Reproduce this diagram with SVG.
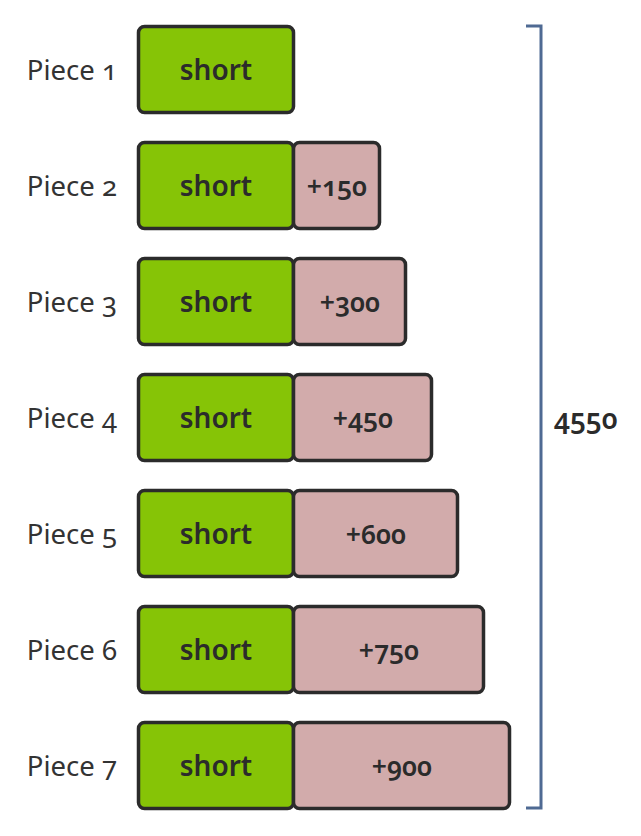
<svg xmlns="http://www.w3.org/2000/svg" width="641" height="836" viewBox="0 0 641 836">
<style>
text{font-family:"Noto Sans","Lato","Liberation Sans",sans-serif;fill:#2b2b2b;font-variant-numeric:oldstyle-nums}
.lbl{font-size:27.5px;font-weight:400;text-anchor:end;fill:#333}
.s{font-size:28px;font-weight:600;text-anchor:middle}
.p{font-size:26.5px;font-weight:600;text-anchor:middle}
.g{fill:#86c406;stroke:#2b2b2b;stroke-width:3.5}
.k{fill:#d2abab;stroke:#2b2b2b;stroke-width:3.5}
.tot{font-size:28px;font-weight:600}
</style>
<g id="piece1"><text class="lbl" x="117" y="80">Piece 1</text><rect class="g" x="138.5" y="26.5" width="155" height="86" rx="6"/><text class="s" x="216" y="80">short</text></g>
<g id="piece2"><text class="lbl" x="117" y="196">Piece 2</text><rect class="g" x="138.5" y="142.5" width="155" height="86" rx="6"/><rect class="k" x="293.5" y="142.5" width="86" height="86" rx="6"/><text class="s" x="216" y="196">short</text><text class="p" x="337" y="196">+150</text></g>
<g id="piece3"><text class="lbl" x="117" y="312">Piece 3</text><rect class="g" x="138.5" y="258.5" width="155" height="86" rx="6"/><rect class="k" x="293.5" y="258.5" width="112" height="86" rx="6"/><text class="s" x="216" y="312">short</text><text class="p" x="350" y="312">+300</text></g>
<g id="piece4"><text class="lbl" x="117" y="428">Piece 4</text><rect class="g" x="138.5" y="374.5" width="155" height="86" rx="6"/><rect class="k" x="293.5" y="374.5" width="138" height="86" rx="6"/><text class="s" x="216" y="428">short</text><text class="p" x="363" y="428">+450</text></g>
<g id="piece5"><text class="lbl" x="117" y="544">Piece 5</text><rect class="g" x="138.5" y="490.5" width="155" height="86" rx="6"/><rect class="k" x="293.5" y="490.5" width="164" height="86" rx="6"/><text class="s" x="216" y="544">short</text><text class="p" x="376" y="544">+600</text></g>
<g id="piece6"><text class="lbl" x="117" y="660">Piece 6</text><rect class="g" x="138.5" y="606.5" width="155" height="86" rx="6"/><rect class="k" x="293.5" y="606.5" width="190" height="86" rx="6"/><text class="s" x="216" y="660">short</text><text class="p" x="389" y="660">+750</text></g>
<g id="piece7"><text class="lbl" x="117" y="776">Piece 7</text><rect class="g" x="138.5" y="722.5" width="155" height="86" rx="6"/><rect class="k" x="293.5" y="722.5" width="216" height="86" rx="6"/><text class="s" x="216" y="776">short</text><text class="p" x="402" y="776">+900</text></g>
<g id="total"><path d="M526 26 H541 V808 H526" fill="none" stroke="#4f6a93" stroke-width="3"/><text class="tot" x="554" y="429">4550</text></g>
</svg>
